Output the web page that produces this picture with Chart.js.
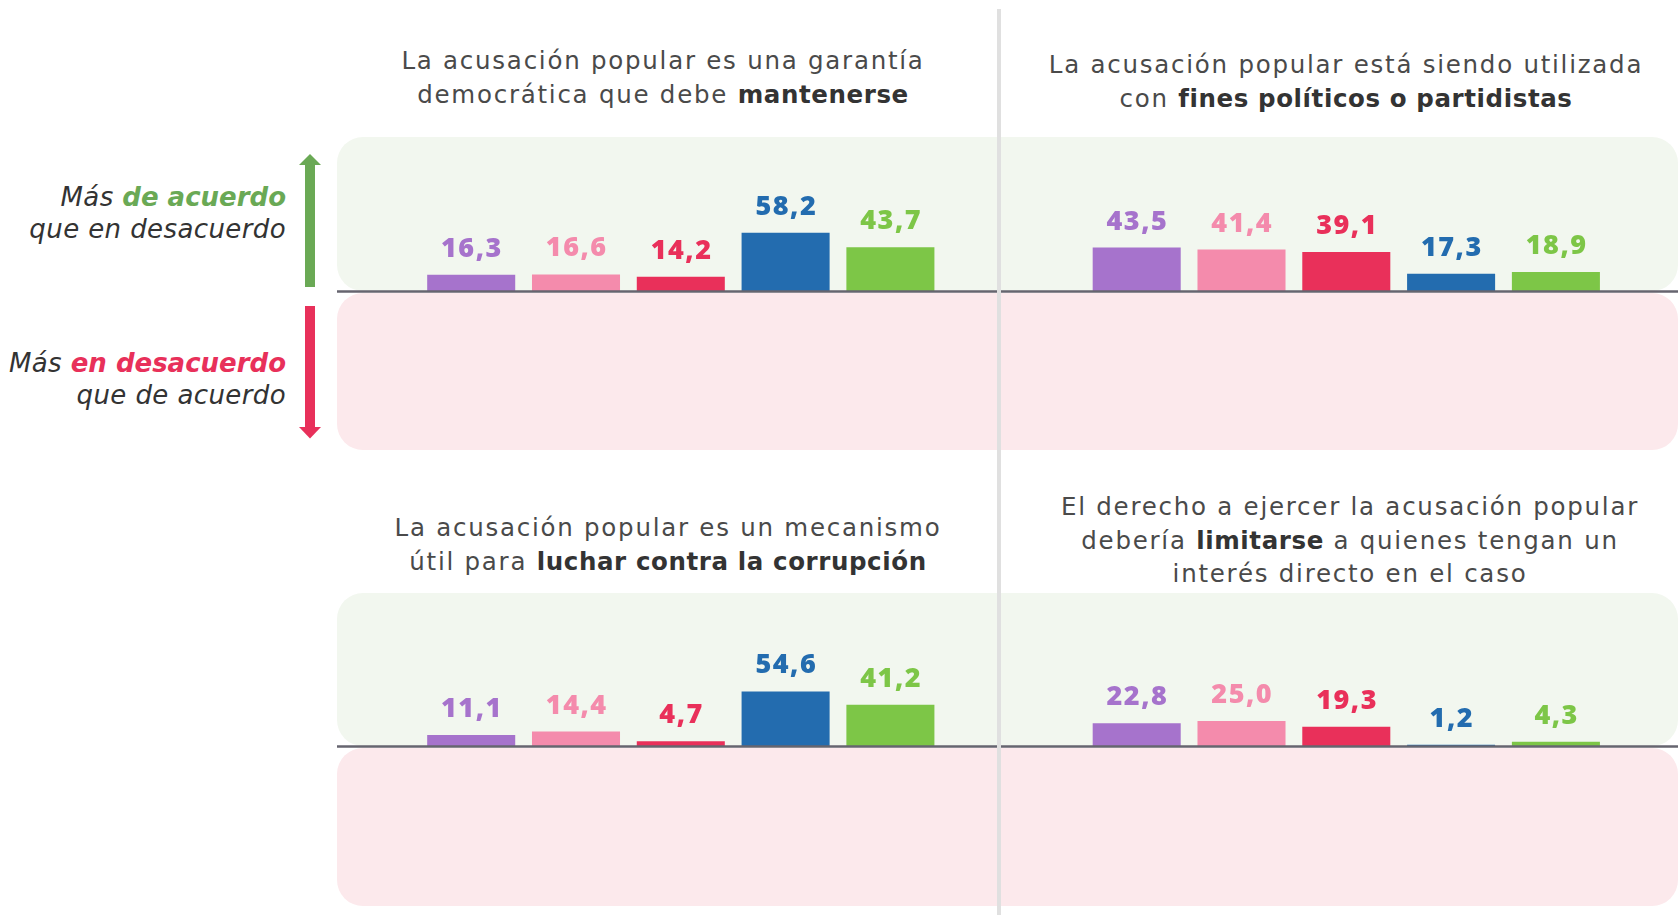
<!DOCTYPE html>
<html lang="es">
<head>
<meta charset="utf-8">
<script src="https://cdn.jsdelivr.net/npm/chart.js@4.4.1/dist/chart.umd.min.js"></script>
<style>
  body { margin: 0; background: #fff; width: 1678px; height: 915px; position: relative; overflow: hidden; font-family: "DejaVu Sans", sans-serif; }
  .title { position: absolute; width: 760px; text-align: center; font-size: 24.5px; line-height: 33.5px; color: #4a4a4a; letter-spacing: 1.75px; white-space: nowrap; }
  .title b { font-weight: 700; color: #333; letter-spacing: 0.6px; }
  .legend { position: absolute; right: 1392px; text-align: right; font-style: italic; font-size: 26px; line-height: 32px; color: #333; letter-spacing: 0.4px; white-space: nowrap; }
  .legend b { font-weight: 700; letter-spacing: 0; }
  canvas { position: absolute; }
  .divider { position: absolute; left: 997px; top: 9px; width: 4px; height: 906px; background: #e0e0e0; }
  svg { position: absolute; left: 0; top: 0; }
</style>
</head>
<body>

<div class="title" style="left:283px; top:44px">La acusación popular es una garantía<br>democrática que debe <b>mantenerse</b></div>
<div class="title" style="left:966px; top:48px">La acusación popular está siendo utilizada<br>con <b>fines políticos o partidistas</b></div>
<div class="title" style="left:288px; top:511px">La acusación popular es un mecanismo<br>útil para <b>luchar contra la corrupción</b></div>
<div class="title" style="left:970px; top:490px">El derecho a ejercer la acusación popular<br>debería <b>limitarse</b> a quienes tengan un<br>interés directo en el caso</div>

<div class="legend" style="top:181px">Más <b style="color:#6aa955">de acuerdo</b><br>que en desacuerdo</div>
<div class="legend" style="top:347px">Más <b style="color:#e8305a">en desacuerdo</b><br>que de acuerdo</div>

<svg width="340" height="460">
  <rect x="305" y="164" width="10" height="123" fill="#6aa955"/>
  <polygon points="299,165 321,165 310,154" fill="#6aa955"/>
  <rect x="305" y="306" width="10" height="122" fill="#e8305a"/>
  <polygon points="299,427 321,427 310,438.5" fill="#e8305a"/>
</svg>

<canvas id="tl" width="662" height="313" style="left:337px; top:137px"></canvas>
<canvas id="tr" width="679" height="313" style="left:999px; top:137px"></canvas>
<canvas id="bl" width="662" height="313" style="left:337px; top:593px"></canvas>
<canvas id="br" width="679" height="313" style="left:999px; top:593px"></canvas>

<div class="divider"></div>

<script>
// grupos (uno por color de barra)
const groups = ['morado', 'rosa', 'rojo', 'azul', 'verde'];
const groupColors = ['#a673cc', '#f48bac', '#e9305a', '#236caf', '#7dc647'];

// % neto de acuerdo por afirmación
const mantenerse = [16.3, 16.6, 14.2, 58.2, 43.7];
const finesPoliticos = [43.5, 41.4, 39.1, 17.3, 18.9];
const corrupcion = [11.1, 14.4, 4.7, 54.6, 41.2];
const limitarse = [22.8, 25.0, 19.3, 1.2, 4.3];

const fmt = v => v.toFixed(1).replace('.', ',');

// fondo verde/rosa, línea del cero y etiquetas de valor
const panels = {
  id: 'panels',
  beforeDraw(chart, args, opts) {
    const { ctx, width, height } = chart;
    const y0 = chart.scales.y.getPixelForValue(0);
    const r = 26;
    const radii = opts.side === 'left' ? [r, 0, 0, r] : [0, r, r, 0];
    ctx.save();
    ctx.fillStyle = '#f2f7ef';
    ctx.beginPath();
    ctx.roundRect(0, 0, width, y0, radii);
    ctx.fill();
    ctx.fillStyle = '#fce9ec';
    ctx.beginPath();
    ctx.roundRect(0, y0 + 2, width, height - y0 - 2, radii);
    ctx.fill();
    ctx.restore();
  },
  afterDatasetsDraw(chart) {
    const { ctx, width } = chart;
    const y0 = chart.scales.y.getPixelForValue(0);
    ctx.save();
    ctx.strokeStyle = '#66656f';
    ctx.lineWidth = 2.5;
    ctx.beginPath();
    ctx.moveTo(0, y0 + 0.5);
    ctx.lineTo(width, y0 + 0.5);
    ctx.stroke();

    const ds = chart.data.datasets[0];
    ctx.font = '800 27px "Open Sans"';
    ctx.letterSpacing = '1.5px';
    ctx.textAlign = 'center';
    ctx.textBaseline = 'alphabetic';
    chart.getDatasetMeta(0).data.forEach((bar, i) => {
      ctx.fillStyle = groupColors[i];
      ctx.fillText(fmt(ds.data[i]), bar.x + 0.75, bar.y - 18);
    });
    ctx.restore();
  }
};

function drawChart(id, values, side, yMin, yMax) {
  const padding = side === 'left'
    ? { left: 81.8, right: 56.2, top: 0, bottom: 0 }
    : { left: 85.3, right: 69.7, top: 0, bottom: 0 };
  new Chart(document.getElementById(id), {
    type: 'bar',
    data: {
      labels: groups,
      datasets: [{
        data: values,
        backgroundColor: groupColors,
        borderWidth: 0,
        barPercentage: 1,
        categoryPercentage: 0.84
      }]
    },
    options: {
      responsive: false,
      animation: false,
      devicePixelRatio: 1,
      layout: { padding },
      scales: {
        x: { display: false },
        y: { display: false, min: yMin, max: yMax }
      },
      plugins: {
        legend: { display: false },
        tooltip: { enabled: false },
        panels: { side }
      }
    },
    plugins: [panels]
  });
}

drawChart('tl', mantenerse, 'left', -159, 154);
drawChart('tr', finesPoliticos, 'right', -159, 154);
drawChart('bl', corrupcion, 'left', -160, 153);
drawChart('br', limitarse, 'right', -160, 153);
</script>
</body>
</html>
